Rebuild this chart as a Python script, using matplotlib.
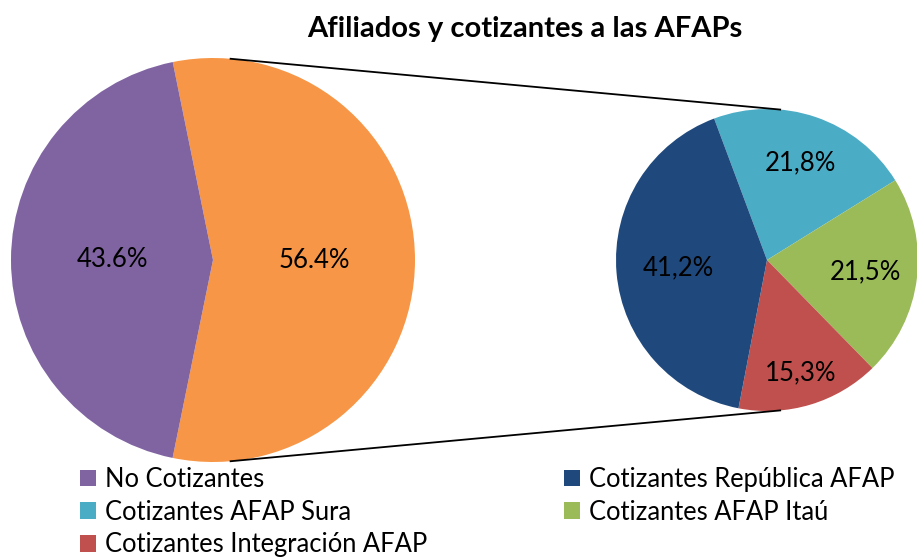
import numpy as np
import matplotlib
matplotlib.use("Agg")
import matplotlib.pyplot as plt
from matplotlib.patches import Patch

plt.rcParams['font.family'] = ['Lato', 'DejaVu Sans']

# main pie: the orange part is split into the small pie
main_names = ['Cotizantes', 'No Cotizantes']
main_values = [56.4, 43.6]
main_labels = ['56.4%', '43.6%']
main_colors = ['#F79646', '#8064A2']

# secondary pie (clockwise from the top)
sub_names = ['Cotizantes AFAP Sura', 'Cotizantes AFAP Itaú',
             'Cotizantes Integración AFAP', 'Cotizantes República AFAP']
sub_values = [21.8, 21.5, 15.3, 41.2]
sub_labels = ['21,8%', '21,5%', '15,3%', '41,2%']
sub_colors = ['#4BACC6', '#9BBB59', '#C0504D', '#1F497D']

W, H = 917, 559
fig = plt.figure(figsize=(W / 100, H / 100), dpi=100)
ax = fig.add_axes([0, 0, 1, 1])

left_c, left_r = (213, 299), 202
right_c, right_r = (767, 299), 151

ax.pie(main_values, colors=main_colors, center=left_c, radius=left_r,
       startangle=101.5, counterclock=False, labels=main_labels,
       labeldistance=0.5,
       textprops=dict(fontsize=18.5, ha='center', va='center'))
wedges, texts = ax.pie(sub_values, colors=sub_colors, center=right_c, radius=right_r,
                       startangle=110.5, counterclock=False, labels=sub_labels,
                       labeldistance=0.66,
                       textprops=dict(fontsize=18.5, ha='center', va='center'))

# excel puts the small-pie labels at slightly different distances
label_dist = [0.68, 0.66, 0.78, 0.59]
for w, t, d in zip(wedges, texts, label_dist):
    a = np.deg2rad((w.theta1 + w.theta2) / 2)
    t.set_position((right_c[0] + d * right_r * np.cos(a),
                    right_c[1] + d * right_r * np.sin(a)))

# connector lines between the two pies
for ang in (85, -85):
    a = np.deg2rad(ang)
    ax.plot([left_c[0] + left_r * np.cos(a), right_c[0] + right_r * np.cos(a)],
            [left_c[1] + left_r * np.sin(a), right_c[1] + right_r * np.sin(a)],
            color='black', lw=1.3)

ax.set_xlim(0, W)
ax.set_ylim(0, H)
ax.set_aspect('equal')
ax.axis('off')

fig.text(525 / W, 1 - 29 / H, 'Afiliados y cotizantes a las AFAPs',
         ha='center', va='center', fontsize=21, fontweight='bold')

# legend, row by row: col 1 then col 2
leg_names = ['No Cotizantes', sub_names[0], sub_names[2], sub_names[3], sub_names[1]]
leg_colors = [main_colors[1], sub_colors[0], sub_colors[2], sub_colors[3], sub_colors[1]]
handles = [Patch(facecolor=c, edgecolor='none') for c in leg_colors]
fig.legend(handles, leg_names, ncol=2, loc='upper left',
           bbox_to_anchor=(80 / W, 1 - 467 / H), frameon=False, fontsize=18.4,
           handlelength=0.62, handleheight=0.62, handletextpad=0.35,
           columnspacing=5.35, labelspacing=0.3, borderpad=0, borderaxespad=0)

fig.savefig('out.png', dpi=100)
